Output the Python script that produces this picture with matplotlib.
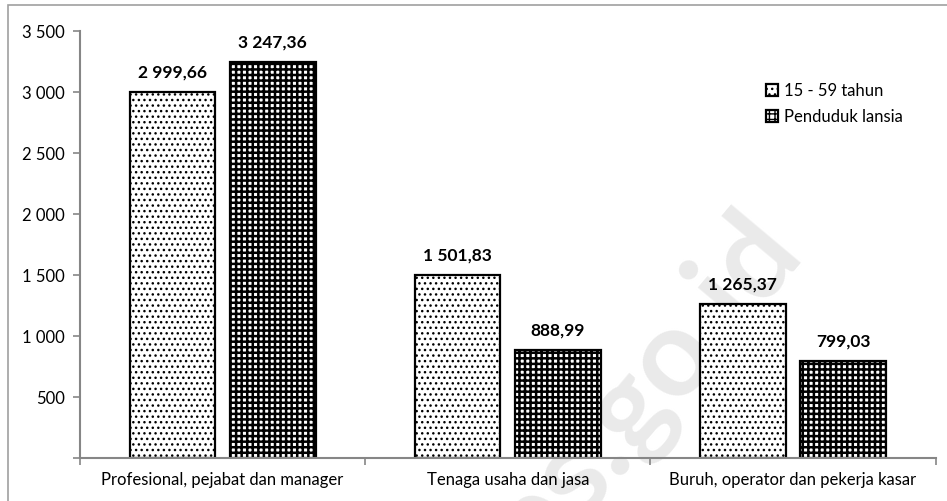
import matplotlib
matplotlib.use("Agg")
import matplotlib.pyplot as plt
import matplotlib.patches as mpatches
from matplotlib.ticker import FuncFormatter
import numpy as np

plt.rcParams["font.family"] = ["Lato", "DejaVu Sans"]

categories = [
    "Profesional, pejabat dan manager",
    "Tenaga usaha dan jasa",
    "Buruh, operator dan pekerja kasar",
]
usia_15_59 = [2999.66, 1501.83, 1265.37]
lansia = [3247.36, 888.99, 799.03]
series_names = ["15 - 59 tahun", "Penduduk lansia"]


def fmt_num(v, decimals=2):
    s = f"{v:,.{decimals}f}"
    return s.replace(",", " ").replace(".", ",")


fig = plt.figure(figsize=(9.47, 5.01), dpi=100)
ax = fig.add_axes([0.0845, 0.0858, 0.9035, 0.8522])

# light outer frame like the source document
frame = mpatches.Rectangle(
    (8 / 947, -0.05), 1.2, 1 - 5 / 501 + 0.05,
    transform=fig.transFigure, fill=False, edgecolor="#a0a0a0", lw=1.2, zorder=0,
)
fig.patches.append(frame)

x = np.arange(len(categories))
width = 0.3
offset = 0.176

# watermark
ax.text(1.4, 360, "bps.go.id", fontsize=88, fontweight="bold", color="#eaeaea",
        rotation=50, ha="center", va="center", zorder=0)

with plt.rc_context({"hatch.linewidth": 1.0}):
    b1 = ax.bar(x - offset, usia_15_59, width, facecolor="white", edgecolor="black",
                hatch="...", linewidth=1.6, zorder=2, label=series_names[0])
with plt.rc_context({"hatch.linewidth": 1.8}):
    b2 = ax.bar(x + offset, lansia, width, facecolor="white", edgecolor="black",
                hatch="+++", linewidth=1.6, zorder=2, label=series_names[1])

for bars in (b1, b2):
    for rect in bars:
        h = rect.get_height()
        ax.annotate(fmt_num(h), (rect.get_x() + rect.get_width() / 2, h),
                    xytext=(0, 8), textcoords="offset points",
                    ha="center", va="bottom", fontsize=12.5, fontweight="bold")

ax.set_xlim(-0.5, 2.5)
ax.set_ylim(0, 3500)
ax.set_yticks(np.arange(0, 3501, 500))
ax.yaxis.set_major_formatter(FuncFormatter(lambda v, p: "" if v == 0 else fmt_num(v, 0)))
ax.set_xticks(x)
ax.set_xticklabels(categories, fontsize=12)
ax.set_xticks([-0.5, 0.5, 1.5, 2.5], minor=True)
ax.tick_params(axis="x", which="major", length=0, pad=10)
ax.tick_params(axis="x", which="minor", length=5, color="#868686", width=1.2)
ax.tick_params(axis="y", length=5, color="#868686", width=1.2, labelsize=12, pad=6)

for side in ("top", "right"):
    ax.spines[side].set_visible(False)
for side in ("left", "bottom"):
    ax.spines[side].set_color("#868686")
    ax.spines[side].set_linewidth(1.5)

ax.legend(loc="upper left", bbox_to_anchor=(0.793, 0.864), bbox_transform=fig.transFigure,
          frameon=False, fontsize=12, handlelength=0.7, handleheight=0.7,
          handletextpad=0.4, labelspacing=0.6)

fig.savefig("out.png", dpi=100)
